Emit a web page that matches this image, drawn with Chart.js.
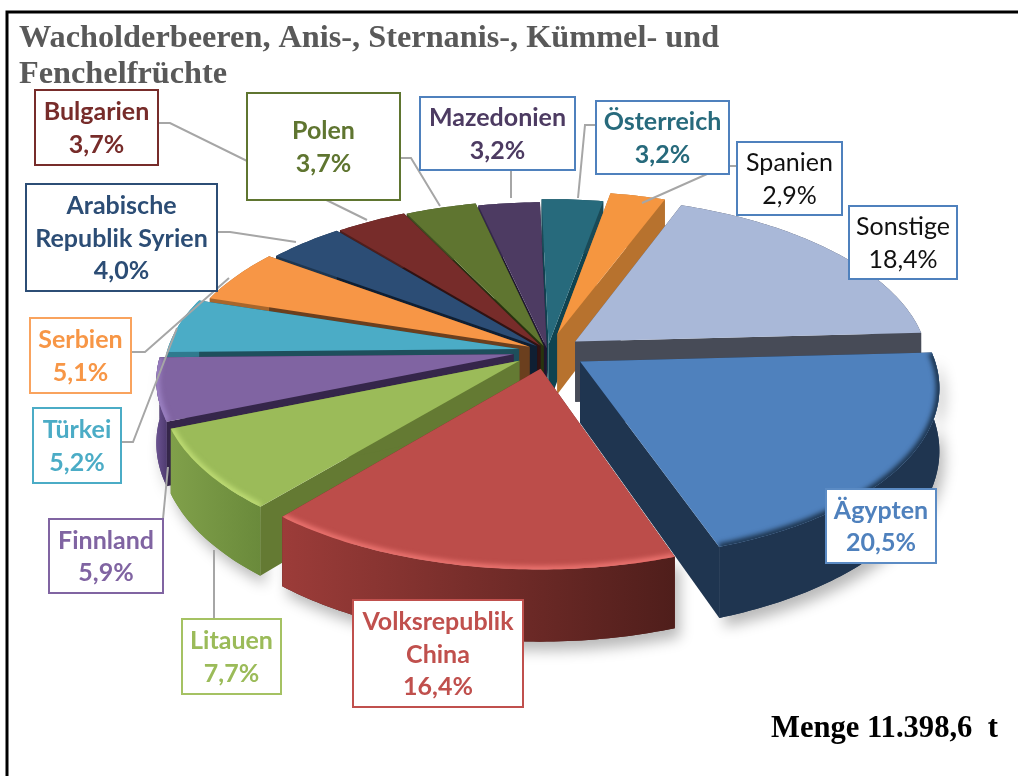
<!DOCTYPE html>
<html>
<head>
<meta charset="utf-8">
<style>
  html, body { margin: 0; padding: 0; background: #fff; }
  canvas { display: block; }
</style>
<script src="https://cdn.jsdelivr.net/npm/chart.js@4/dist/chart.umd.min.js"></script>
</head>
<body>
<canvas id="pie" width="1018" height="776"></canvas>
<script>
const categories = ["Ägypten", "Volksrepublik China", "Litauen", "Finnland", "Türkei", "Serbien",
  "Arabische Republik Syrien", "Bulgarien", "Polen", "Mazedonien", "Österreich", "Spanien", "Sonstige"];
const shares = [20.5, 16.4, 7.7, 5.9, 5.2, 5.1, 4.0, 3.7, 3.7, 3.2, 3.2, 2.9, 18.4];
const titleLines = ["Wacholderbeeren, Anis-, Sternanis-, Kümmel- und", "Fenchelfrüchte"];
const totalText = "Menge 11.398,6  t";

// slice look
const topColors = ["#4F81BD", "#BC4D4A", "#9BBB59", "#8064A2", "#4BACC6", "#F79646", "#2C4D75",
  "#772C2A", "#5F7530", "#4D3B62", "#276A7C", "#F59640", "#A9B8D8"];
const cutColors = ["#1F3550", "#6B2A28", "#647A33", "#35264A", "#1E4F5C", "#6B3F1E", "#0F1F33",
  "#311212", "#28330F", "#1F1630", "#0F4350", "#B7722E", "#474B57"];
const wallLeft = ["#1F3550", "#9C3C39", "#80A04A", "#6A5290", "#2F7A8E", "#A8662C", "#1E3650",
  "#4F1E1C", "#3F4E20", "#33274A", "#1A4A57", "#B7722E", "#474B57"];
const wallRight = ["#1F3550", "#4F1E1B", "#6A8A3B", "#4F3B70", "#2F7A8E", "#A8662C", "#1E3650",
  "#4F1E1C", "#3F4E20", "#33274A", "#1A4A57", "#B7722E", "#474B57"];
const rimColors = ["#1A3048", "#EC7470", "#BEDC74", "#9C82C4", null, null, null, null, null, null, null, null, null];
const explode = [27, 26, 24, 24, 20, 14, 10, 9, 8, 4, 10, 26, 24];

// label boxes: x0, y0, x1, y1
const labelBoxes = [
  [826, 489, 936, 563], [353, 600, 523, 707], [182, 619, 281, 694], [49, 519, 163, 593],
  [33, 408, 121, 483], [30, 318, 131, 393], [26, 184, 217, 291], [35, 90, 158, 165],
  [247, 93, 400, 200], [420, 97, 575, 170], [596, 101, 729, 174], [737, 142, 842, 215], [849, 206, 957, 279]
];
const labelWraps = [["Ägypten"], ["Volksrepublik", "China"], ["Litauen"], ["Finnland"], ["Türkei"], ["Serbien"],
  ["Arabische", "Republik Syrien"], ["Bulgarien"], ["Polen"], ["Mazedonien"], ["Österreich"], ["Spanien"], ["Sonstige"]];
const borderColors = ["#5B8BC4", "#C0504D", "#A5C263", "#8064A2", "#4BACC6", "#F9A35E", "#2C4D75",
  "#772C2A", "#5F7530", "#4F81BD", "#4F81BD", "#4F81BD", "#4F81BD"];
const textColors = ["#4F81BD", "#C0504D", "#9BBB59", "#8064A2", "#4BACC6", "#F79646", "#2C4D75",
  "#772C2A", "#5F7530", "#4D3B62", "#276A7C", "#111111", "#111111"];
const leaders = [
  null, null,
  [[214, 619], [214, 550]],
  [[163, 519], [168, 467]],
  [[121, 442], [133, 442], [177, 328]],
  [[131, 352], [145, 352], [229, 278]],
  [[217, 232], [230, 232], [296, 242]],
  [[158, 123], [170, 123], [367, 220]],
  [[400, 158], [411, 158], [440, 206]],
  [[511, 170], [511, 198]],
  [[596, 125], [585, 125], [578, 198]],
  [[737, 166], [725, 166], [642, 203]],
  null
];

// tilt of the disc
const DISC_R = 352, SQUASH = 0.475, PERSP = 0.14, DEPTH = 61, SHIFT_X = 29;

function project(cx, cy, u, v, down) {
  const f = 1 / (1 - PERSP * v);
  return { x: cx + SHIFT_X + DISC_R * u * f, y: cy + DISC_R * SQUASH * v * f + (down ? DEPTH * f : 0) };
}

function sliceGeometry(arc) {
  const p = arc.getProps(["x", "y", "startAngle", "endAngle", "outerRadius"], true);
  const mid = (p.startAngle + p.endAngle) / 2;
  const off = arc.options.offset / p.outerRadius;
  return { cx: p.x, cy: p.y, a0: p.startAngle, a1: p.endAngle, mid, ax: off * Math.cos(mid), ay: off * Math.sin(mid) };
}

function rimPoints(g, radius, down) {
  const pts = [];
  const n = Math.max(6, Math.round((g.a1 - g.a0) * 60));
  for (let i = 0; i <= n; i++) {
    const a = g.a0 + (g.a1 - g.a0) * i / n;
    pts.push(project(g.cx, g.cy, g.ax + radius * Math.cos(a), g.ay + radius * Math.sin(a), down));
  }
  return pts;
}

function tracePoly(ctx, pts) {
  ctx.beginPath();
  pts.forEach((p, i) => i ? ctx.lineTo(p.x, p.y) : ctx.moveTo(p.x, p.y));
  ctx.closePath();
}

function drawSlice(ctx, g, i) {
  const apexTop = project(g.cx, g.cy, g.ax, g.ay, false);
  const apexLow = project(g.cx, g.cy, g.ax, g.ay, true);
  const top = rimPoints(g, 1, false);
  const low = rimPoints(g, 1, true);

  // the two cut faces
  [[top[0], low[0]], [top[top.length - 1], low[low.length - 1]]].forEach(([t, b]) => {
    tracePoly(ctx, [apexTop, t, b, apexLow]);
    ctx.fillStyle = cutColors[i];
    ctx.fill();
  });

  // outer wall
  tracePoly(ctx, top.concat(low.slice().reverse()));
  const xs = top.map(p => p.x);
  const grad = ctx.createLinearGradient(Math.min(...xs), 0, Math.max(...xs), 0);
  grad.addColorStop(0, wallLeft[i]);
  grad.addColorStop(1, wallRight[i]);
  ctx.fillStyle = grad;
  ctx.fill();

  // top face
  tracePoly(ctx, [apexTop].concat(top));
  ctx.fillStyle = topColors[i];
  ctx.fill();

  if (rimColors[i]) {
    ctx.save();
    tracePoly(ctx, [apexTop].concat(top));
    ctx.clip();
    ctx.filter = "blur(2.5px)";
    ctx.strokeStyle = rimColors[i];
    ctx.lineWidth = 7;
    ctx.beginPath();
    top.forEach((p, k) => k ? ctx.lineTo(p.x, p.y) : ctx.moveTo(p.x, p.y));
    ctx.stroke();
    ctx.restore();
  }
}

const pie3d = {
  id: "pie3d",
  beforeDatasetDraw(chart, args) {
    const ctx = chart.ctx;
    const arcs = args.meta.data.map((arc, i) => ({ g: sliceGeometry(arc), i }));

    // soft shadow on the paper first
    ctx.save();
    ctx.shadowColor = "rgba(0,0,0,0.28)";
    ctx.shadowBlur = 14;
    ctx.shadowOffsetX = 5;
    ctx.shadowOffsetY = 9;
    arcs.forEach(({ g, i }) => {
      if (Math.sin(g.mid) <= 0) return;
      tracePoly(ctx, rimPoints(g, 1, false).concat(rimPoints(g, 1, true).reverse()));
      ctx.fillStyle = wallRight[i];
      ctx.fill();
    });
    ctx.restore();

    arcs.sort((a, b) => Math.sin(a.g.mid) - Math.sin(b.g.mid));
    arcs.forEach(({ g, i }) => drawSlice(ctx, g, i));
    return false;
  },
  afterDatasetsDraw(chart) {
    const ctx = chart.ctx;
    ctx.save();

    // frame of the picture
    ctx.strokeStyle = "#000";
    ctx.lineWidth = 3;
    ctx.beginPath();
    ctx.moveTo(7, 776);
    ctx.lineTo(7, 12);
    ctx.lineTo(1018, 12);
    ctx.stroke();

    // leader lines
    ctx.strokeStyle = "#A6A6A6";
    ctx.lineWidth = 2;
    leaders.forEach(line => {
      if (!line) return;
      ctx.beginPath();
      line.forEach((p, k) => k ? ctx.lineTo(p[0], p[1]) : ctx.moveTo(p[0], p[1]));
      ctx.stroke();
    });

    // data labels
    categories.forEach((name, i) => {
      const [x0, y0, x1, y1] = labelBoxes[i];
      ctx.fillStyle = "#fff";
      ctx.fillRect(x0, y0, x1 - x0, y1 - y0);
      ctx.strokeStyle = borderColors[i];
      ctx.lineWidth = 2;
      ctx.strokeRect(x0, y0, x1 - x0, y1 - y0);
      const lines = labelWraps[i].concat(shares[i].toFixed(1).replace(".", ",") + "%");
      const plain = textColors[i] === "#111111";
      ctx.font = (plain ? "" : "bold ") + "25px Lato";
      ctx.fillStyle = textColors[i];
      ctx.textAlign = "center";
      ctx.textBaseline = "middle";
      const midX = (x0 + x1) / 2, midY = (y0 + y1) / 2 + 1;
      lines.forEach((t, k) => ctx.fillText(t, midX, midY + (k - (lines.length - 1) / 2) * 32.5));
    });

    // total
    ctx.font = "bold 30.6px 'Liberation Serif'";
    ctx.fillStyle = "#000";
    ctx.textAlign = "left";
    ctx.textBaseline = "middle";
    ctx.fillText(totalText, 771, 729);
    ctx.restore();
  }
};

new Chart(document.getElementById("pie"), {
  type: "pie",
  data: {
    labels: categories,
    datasets: [{ data: shares, backgroundColor: topColors, borderWidth: 0, offset: explode }]
  },
  options: {
    responsive: false,
    animation: false,
    rotation: 87,
    layout: { padding: { left: 19, top: 21, bottom: 167, right: 0 } },
    plugins: {
      legend: { display: false },
      tooltip: { enabled: false },
      title: {
        display: true,
        text: titleLines,
        align: "start",
        color: "#595959",
        padding: 0,
        font: { family: "'Liberation Serif'", size: 32.3, weight: "bold", lineHeight: 1.115 }
      }
    }
  },
  plugins: [pie3d]
});
</script>
</body>
</html>
